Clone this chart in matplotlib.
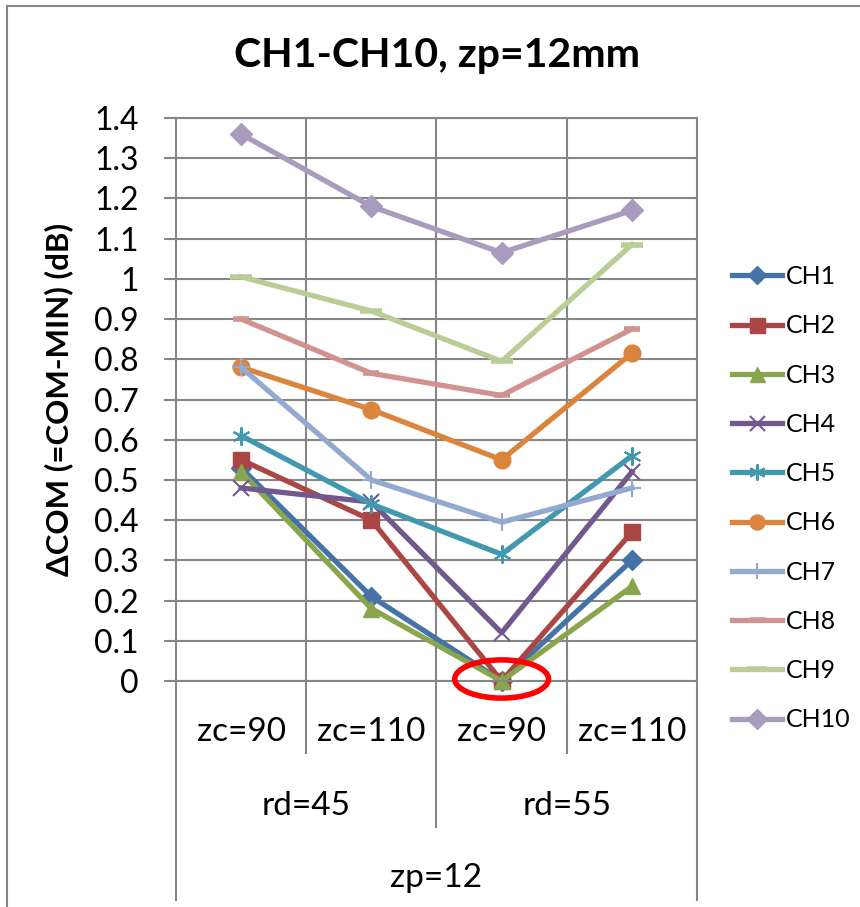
import matplotlib
matplotlib.use('Agg')
import matplotlib.pyplot as plt
from matplotlib.patches import Ellipse
from matplotlib.lines import Line2D

plt.rcParams['font.family'] = ['Lato', 'DejaVu Sans']

# data
zc_labels = ['zc=90', 'zc=110', 'zc=90', 'zc=110']
rd_labels = ['rd=45', 'rd=55']
zp_label = 'zp=12'
channels = ['CH1', 'CH2', 'CH3', 'CH4', 'CH5', 'CH6', 'CH7', 'CH8', 'CH9', 'CH10']

ch1 = [0.53, 0.21, 0.0, 0.30]
ch2 = [0.55, 0.40, 0.0, 0.37]
ch3 = [0.52, 0.18, 0.0, 0.235]
ch4 = [0.48, 0.445, 0.12, 0.52]
ch5 = [0.61, 0.44, 0.315, 0.56]
ch6 = [0.78, 0.675, 0.55, 0.815]
ch7 = [0.78, 0.50, 0.395, 0.48]
ch8 = [0.90, 0.765, 0.71, 0.875]
ch9 = [1.005, 0.92, 0.795, 1.085]
ch10 = [1.36, 1.18, 1.065, 1.17]
series = [ch1, ch2, ch3, ch4, ch5, ch6, ch7, ch8, ch9, ch10]

colors = ['#4572A7', '#AA4643', '#89A54E', '#71588F', '#4198AF',
          '#DB843D', '#93A9CF', '#D19392', '#B9CD96', '#A99BBD']
markers = ['D', 's', '^', 'x', '*', 'o', '+', '_', '_', 'D']
msizes = [10, 12, 12, 12, 13, 12, 13, 12, 16, 11]

fig = plt.figure(figsize=(8.6, 9.07), dpi=100)
ax = fig.add_axes([176 / 860, 1 - 681 / 907, (697 - 176) / 860, (681 - 118) / 907])

x = list(range(len(zc_labels)))
for name, vals, c, m, s in zip(channels, series, colors, markers, msizes):
    if m == '*':
        # asterisk marker: x plus vertical bar
        ax.plot(x, vals, color=c, lw=3.8, marker=(6, 2, 0), ms=s, mew=1.5, label=name, clip_on=False)
    elif m in ('x', '+', '_'):
        ax.plot(x, vals, color=c, lw=3.8, marker=m, ms=s, mew=1.5 if m != '_' else 4, label=name, clip_on=False)
    else:
        ax.plot(x, vals, color=c, lw=3.8, marker=m, ms=s, mec=c, label=name, clip_on=False)

ax.set_xlim(-0.5, 3.5)
ax.set_ylim(0, 1.4)
ax.set_yticks([i / 10 for i in range(15)])
ax.set_yticklabels(['0', '0.1', '0.2', '0.3', '0.4', '0.5', '0.6', '0.7', '0.8', '0.9',
                    '1', '1.1', '1.2', '1.3', '1.4'])
ax.set_xticks([0.5, 1.5, 2.5])
ax.set_xticklabels([])
ax.grid(True, color='#868686', lw=1.5)
ax.set_axisbelow(True)
ax.tick_params(axis='y', labelsize=23, length=9, width=1.5, color='#868686', pad=18)
ax.tick_params(axis='x', length=0)
for sp in ax.spines.values():
    sp.set_color('#868686')
    sp.set_linewidth(1.5)

# red ellipse round the minimum
ax.add_patch(Ellipse((2, 0.005), 0.72, 0.095, fill=False, ec='#FF0000', lw=4, clip_on=False, zorder=5))

# multi-level category axis
tr = ax.get_xaxis_transform()
for xv, yb in [(-0.5, -0.389), (0.5, -0.128), (1.5, -0.259), (2.5, -0.128), (3.5, -0.389)]:
    ax.plot([xv, xv], [0, yb], transform=tr, color='#868686', lw=1.5, clip_on=False)
for i, lab in enumerate(zc_labels):
    ax.text(i, -0.09, lab, transform=tr, ha='center', va='center', fontsize=24)
for i, lab in enumerate(rd_labels):
    ax.text(0.5 + 2 * i, -0.222, lab, transform=tr, ha='center', va='center', fontsize=24)
ax.text(1.5, -0.35, zp_label, transform=tr, ha='center', va='center', fontsize=24)

ax.set_ylabel('ΔCOM (=COM-MIN) (dB)', fontsize=22.5, fontweight='bold', labelpad=15)
fig.text(437 / 860, 1 - 55 / 907, 'CH1-CH10, zp=12mm', ha='center', va='center',
         fontsize=29.5, fontweight='bold')

ax.legend(loc='upper left', bbox_to_anchor=(732 / 860, 1 - 265 / 907),
          bbox_transform=fig.transFigure, frameon=False, fontsize=18,
          handlelength=2.0, handletextpad=0.15, labelspacing=1.05, borderpad=0,
          borderaxespad=0, markerscale=0.9)

# outer chart border (top and left edges visible)
fig.add_artist(Line2D([7 / 860, 1], [1 - 6 / 907, 1 - 6 / 907], transform=fig.transFigure,
                      color='#868686', lw=1.5))
fig.add_artist(Line2D([7 / 860, 7 / 860], [0, 1 - 6 / 907], transform=fig.transFigure,
                      color='#868686', lw=1.5))

fig.savefig('out.png', dpi=100)
